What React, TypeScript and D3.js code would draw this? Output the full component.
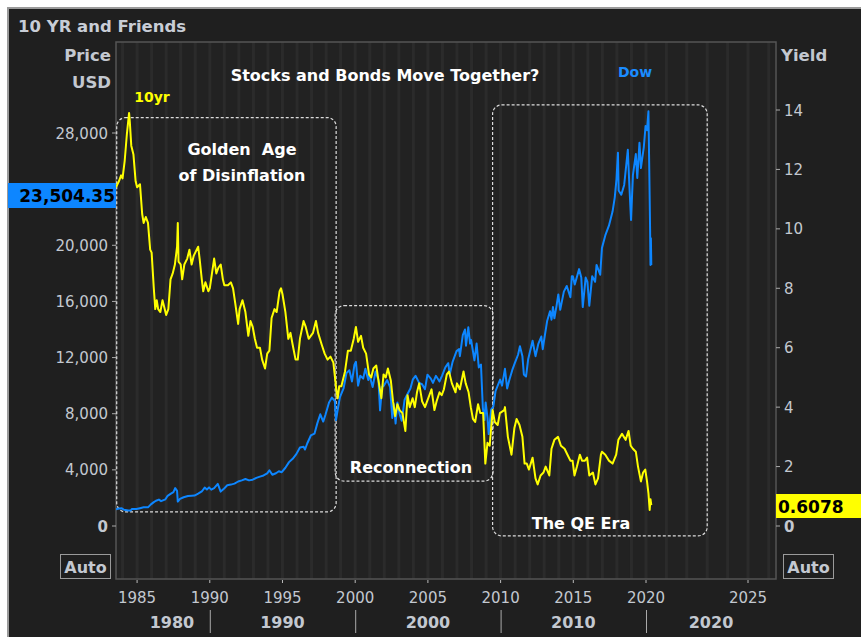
import React from "react";
import * as d3 from "d3";

// ---------- DATA ----------
const tenYrDates = [1983.55,1983.75,1983.9,1984.0,1984.15,1984.3,1984.45,1984.5,1984.6,1984.75,1984.9,1985.0,1985.2,1985.35,1985.45,1985.6,1985.75,1985.9,1986.0,1986.15,1986.25,1986.35,1986.45,1986.6,1986.75,1986.9,1987.0,1987.15,1987.3,1987.45,1987.6,1987.75,1987.8,1987.85,1988.0,1988.1,1988.25,1988.45,1988.6,1988.75,1988.9,1989.0,1989.2,1989.3,1989.45,1989.55,1989.7,1989.9,1990.0,1990.15,1990.3,1990.45,1990.6,1990.75,1990.9,1991.0,1991.25,1991.45,1991.6,1991.75,1991.95,1992.05,1992.25,1992.45,1992.65,1992.8,1992.95,1993.1,1993.25,1993.45,1993.6,1993.8,1993.95,1994.1,1994.25,1994.45,1994.6,1994.8,1994.9,1995.0,1995.2,1995.4,1995.55,1995.7,1995.9,1996.05,1996.2,1996.45,1996.6,1996.8,1996.95,1997.1,1997.3,1997.45,1997.7,1997.9,1998.1,1998.3,1998.5,1998.7,1998.8,1998.9,1999.05,1999.3,1999.5,1999.7,1999.9,2000.05,2000.2,2000.4,2000.55,2000.75,2000.95,2001.1,2001.25,2001.45,2001.6,2001.8,2001.95,2002.1,2002.25,2002.45,2002.6,2002.75,2002.9,2003.05,2003.25,2003.45,2003.6,2003.75,2003.95,2004.1,2004.25,2004.4,2004.6,2004.8,2004.95,2005.1,2005.25,2005.45,2005.6,2005.8,2005.95,2006.1,2006.3,2006.45,2006.65,2006.9,2007.0,2007.2,2007.45,2007.6,2007.8,2007.95,2008.1,2008.25,2008.45,2008.6,2008.8,2008.95,2009.1,2009.25,2009.45,2009.6,2009.8,2009.95,2010.25,2010.3,2010.5,2010.75,2010.95,2011.1,2011.3,2011.5,2011.65,2011.8,2011.95,2012.2,2012.4,2012.55,2012.75,2012.95,2013.1,2013.35,2013.5,2013.7,2013.95,2014.15,2014.4,2014.6,2014.8,2014.95,2015.08,2015.25,2015.45,2015.6,2015.8,2015.95,2016.1,2016.35,2016.52,2016.7,2016.9,2016.97,2017.2,2017.45,2017.7,2017.95,2018.1,2018.35,2018.6,2018.8,2018.95,2019.1,2019.3,2019.45,2019.65,2019.8,2019.95,2020.05,2020.12,2020.18,2020.22,2020.26];
const tenYrValues = [11.4,11.6,11.8,11.7,12.3,13.2,13.9,13.6,12.8,12.5,11.6,11.4,11.5,10.5,10.2,10.4,10.2,9.3,9.2,8.0,7.3,7.6,7.3,7.2,7.6,7.3,7.1,7.3,8.3,8.5,8.8,9.4,10.2,8.9,8.8,8.3,8.8,9.0,9.3,8.8,9.1,9.2,9.4,9.0,8.3,7.9,8.2,7.9,8.0,8.5,9.0,8.5,8.7,8.8,8.3,8.1,8.1,8.2,8.0,7.5,6.8,7.3,7.6,7.2,6.4,6.9,6.7,6.3,6.0,6.0,5.6,5.3,5.8,5.9,7.0,7.3,7.2,7.9,8.0,7.8,7.2,6.3,6.5,6.1,5.6,5.6,6.3,6.9,6.7,6.3,6.4,6.5,6.9,6.5,6.1,5.8,5.6,5.7,5.5,4.6,4.3,4.7,4.7,5.2,5.9,5.9,6.3,6.7,6.2,6.4,6.0,5.8,5.1,5.0,5.3,5.4,4.9,4.3,5.1,5.0,5.3,4.9,4.2,3.7,4.1,3.9,3.8,3.2,4.4,4.0,4.3,4.0,4.5,4.8,4.2,4.0,4.2,4.4,4.6,3.9,4.2,4.5,4.4,4.6,5.1,5.2,4.8,4.5,4.8,4.6,5.2,4.8,4.5,4.0,3.6,3.5,4.1,3.8,3.8,2.1,2.8,2.7,3.9,3.5,3.4,3.8,3.9,4.0,3.0,2.4,3.3,3.6,3.4,3.0,2.1,2.1,1.9,2.3,1.6,1.4,1.7,1.8,2.0,1.7,2.6,2.9,3.0,2.7,2.6,2.4,2.2,2.2,1.7,2.0,2.4,2.2,2.2,2.3,1.7,1.8,1.4,1.6,2.4,2.5,2.4,2.2,2.1,2.4,2.9,3.1,2.9,3.2,2.7,2.6,2.5,2.0,1.5,1.8,1.9,1.5,1.1,0.54,0.9,0.7];

const dowDates = [1983.55,1983.75,1983.95,1984.1,1984.4,1984.55,1984.65,1984.95,1985.2,1985.45,1985.75,1985.95,1986.15,1986.3,1986.5,1986.65,1986.95,1987.1,1987.3,1987.5,1987.62,1987.75,1987.8,1987.95,1988.2,1988.5,1988.75,1988.95,1989.2,1989.45,1989.65,1989.8,1989.95,1990.1,1990.3,1990.55,1990.75,1990.95,1991.2,1991.45,1991.7,1991.95,1992.2,1992.45,1992.7,1992.95,1993.2,1993.45,1993.7,1993.95,1994.1,1994.3,1994.55,1994.75,1994.95,1995.2,1995.45,1995.7,1995.95,1996.2,1996.45,1996.55,1996.7,1996.95,1997.2,1997.4,1997.6,1997.8,1997.95,1998.2,1998.4,1998.6,1998.68,1998.85,1998.95,1999.2,1999.4,1999.6,1999.78,1999.95,2000.05,2000.2,2000.35,2000.55,2000.7,2000.9,2000.97,2001.2,2001.4,2001.6,2001.71,2001.85,2001.97,2002.2,2002.4,2002.55,2002.65,2002.78,2002.9,2003.05,2003.2,2003.4,2003.6,2003.8,2003.97,2004.15,2004.4,2004.6,2004.8,2004.97,2005.2,2005.35,2005.55,2005.8,2005.97,2006.2,2006.4,2006.5,2006.7,2006.97,2007.15,2007.2,2007.4,2007.55,2007.62,2007.78,2007.9,2007.97,2008.2,2008.35,2008.5,2008.65,2008.78,2008.9,2008.97,2009.1,2009.18,2009.35,2009.5,2009.65,2009.8,2009.97,2010.1,2010.3,2010.45,2010.6,2010.8,2010.97,2011.2,2011.33,2011.5,2011.6,2011.75,2011.9,2011.97,2012.2,2012.4,2012.6,2012.8,2012.9,2012.97,2013.2,2013.4,2013.5,2013.6,2013.7,2013.85,2013.97,2014.1,2014.35,2014.55,2014.8,2014.9,2014.97,2015.1,2015.4,2015.55,2015.65,2015.85,2015.97,2016.1,2016.3,2016.5,2016.6,2016.85,2016.97,2017.2,2017.45,2017.7,2017.85,2017.97,2018.07,2018.12,2018.3,2018.5,2018.75,2018.85,2018.97,2019.1,2019.3,2019.4,2019.55,2019.65,2019.85,2019.97,2020.05,2020.12,2020.16,2020.2,2020.22,2020.24,2020.26];
const dowValues = [1200,1240,1260,1160,1110,1100,1220,1210,1270,1330,1330,1540,1700,1800,1880,1770,1900,2150,2290,2420,2700,2500,1740,1930,2050,2140,2160,2170,2300,2460,2740,2600,2750,2590,2700,3000,2450,2630,2900,2950,3020,3170,3250,3350,3250,3300,3430,3520,3600,3750,3970,3650,3760,3900,3830,4150,4550,4790,5120,5590,5650,5450,5880,6450,6580,7330,7960,7440,7910,8800,9150,8900,7540,8600,9180,9800,10900,11100,10300,11500,11700,10000,10700,10500,11200,10400,10800,9900,11000,10400,8240,9900,10000,10400,9900,7700,8700,7300,8800,8000,7500,9000,9400,9800,10450,10700,10200,10100,9750,10780,10500,10200,10700,10300,10700,11300,11600,10800,11700,12460,12600,12100,13600,14000,12850,14160,13000,13260,11800,13000,11300,11500,8400,7550,8800,7700,6550,8300,8500,9600,10000,10430,10000,11200,9800,10400,11100,11580,12200,12800,12100,10800,10650,11900,12200,13200,12100,13000,13500,12600,13100,14600,15300,14700,15600,14800,15700,16500,15400,16700,17100,16300,17800,17800,17200,18300,17700,15600,17700,17400,15700,17800,17400,18600,17900,19800,20700,21400,22400,23400,24700,26600,23900,23600,24300,26800,24400,21800,25000,26500,24800,27300,25500,27000,28500,28200,29550,25400,21200,18600,20500,18600];

const priceTicks = [0, 4000, 8000, 12000, 16000, 20000, 24000, 28000];
const hiddenPriceLabel = 24000; // covered by the last-value tag in the reference
const yieldTicks = [0, 2, 4, 6, 8, 10, 12, 14];
const yearTicks = [1985, 1990, 1995, 2000, 2005, 2010, 2015, 2020, 2025];
const decadeLabels = [1980, 1990, 2000, 2010, 2020];
const decadeSeparators = [1990, 2000, 2010, 2020];

const regimes = [
  { start: 1983.6, end: 1998.69, top: 29100, bottom: 1000 },
  { start: 1998.62, end: 2009.48, top: 15700, bottom: 3200 },
  { start: 2009.45, end: 2023.0, top: 30000, bottom: -700 },
];

export default function App() {
  const W = 861, H = 637;
  const L = 116, R = 776, T = 42, B = 579;

  const x = d3.scaleLinear().domain([1983.55, 2020, 2025, 2026.35]).range([L, 646, 748, R]);
  const yP = d3.scaleLinear().domain([0, 28000]).range([526, 133]);
  const yY = d3.scaleLinear().domain([0, 14]).range([526, 110]);

  const dowLine = d3.line<number>().x((_, i) => x(dowDates[i])).y((d) => yP(d));
  const yldLine = d3.line<number>().x((_, i) => x(tenYrDates[i])).y((d) => yY(d));

  const years = d3.range(1984, 2027);
  const font = "'DejaVu Sans', Verdana, sans-serif";
  const axisCol = "#c3c8d0";

  return (
    <div style={{ position: "absolute", left: 0, top: 0 }}>
      <svg width={W} height={H} style={{ display: "block", fontFamily: font }}>
        <rect width={W} height={H} fill="#ffffff" />
        <rect x={7} y={7} width={W - 7} height={H - 7} fill="#1f1f1f" />
        <line x1={7} y1={8} x2={W} y2={8} stroke="#9a9a9a" strokeWidth={2} />
        <line x1={8} y1={7} x2={8} y2={H} stroke="#9a9a9a" strokeWidth={2} />
        <text x={18} y={32} fill="#c8cdd6" fontSize={16.5} fontWeight="bold">10 YR and Friends</text>

        {/* plot area */}
        <clipPath id="plot"><rect x={L} y={T} width={R - L} height={B - T} /></clipPath>
        <rect x={L} y={T} width={R - L} height={B - T} fill="#222222" />
        <g clipPath="url(#plot)">
          {years.map((yr) => (
            <rect key={yr} x={x(yr) - 1.5} y={T} width={3} height={B - T} fill="#2b2b2b" />
          ))}
        </g>
        <rect x={L} y={T} width={R - L} height={B - T} fill="none" stroke="#555" strokeWidth={1.5} />

        {/* axis titles */}
        <text x={111} y={61} textAnchor="end" fill={axisCol} fontSize={16.5} fontWeight="bold">Price</text>
        <text x={111} y={88} textAnchor="end" fill={axisCol} fontSize={16.5} fontWeight="bold">USD</text>
        <text x={781} y={61} fill={axisCol} fontSize={16.5} fontWeight="bold">Yield</text>

        {/* left ticks */}
        {priceTicks.map((t) => (
          <g key={t}>
            <line x1={L - 4} x2={L} y1={yP(t)} y2={yP(t)} stroke="#aaa" />
            {t !== hiddenPriceLabel && (
              <text x={L - 8} y={yP(t) + 5.5} textAnchor="end" fill={axisCol} fontSize={15} fontWeight={t === 0 ? "bold" : "normal"}>
                {d3.format(",")(t)}
              </text>
            )}
          </g>
        ))}
        {/* right ticks */}
        {yieldTicks.map((t) => (
          <g key={t}>
            <line x1={R} x2={R + 4} y1={yY(t)} y2={yY(t)} stroke="#aaa" />
            <text x={R + 8} y={yY(t) + 5.5} fill={axisCol} fontSize={15} fontWeight={t === 0 ? "bold" : "normal"}>{t}</text>
          </g>
        ))}

        {/* x axis */}
        {yearTicks.map((t) => (
          <g key={t}>
            <line x1={x(t)} x2={x(t)} y1={B + 1} y2={B + 4} stroke="#bbb" />
            <text x={x(t)} y={603} textAnchor="middle" fill={axisCol} fontSize={15}>{t}</text>
          </g>
        ))}
        {decadeSeparators.map((t) => (
          <line key={t} x1={x(t) + 0.5} x2={x(t) + 0.5} y1={610} y2={633} stroke="#aaa" />
        ))}
        {decadeLabels.map((d) => {
          const cx = d === 1980 ? (x(1983.55) + x(1990)) / 2 + 9
            : d === 2020 ? (x(2020) + x(2025)) / 2 + 14
            : (x(d) + x(d + 10)) / 2;
          return (
            <text key={d} x={cx} y={628} textAnchor="middle" fill={axisCol} fontSize={16} fontWeight="bold">{d}</text>
          );
        })}

        {/* regime boxes */}
        {regimes.map((r, i) => (
          <rect key={i} x={x(r.start)} y={yP(r.top)} width={x(r.end) - x(r.start)} height={yP(r.bottom) - yP(r.top)}
            rx={9} fill="none" stroke="#dcdcdc" strokeWidth={1.2} strokeDasharray="3,2" />
        ))}

        {/* lines */}
        <g clipPath="url(#plot)">
          <path d={dowLine(dowValues) || ""} fill="none" stroke="#0d86ff" strokeWidth={2} strokeLinejoin="round" />
          <path d={yldLine(tenYrValues) || ""} fill="none" stroke="#ffff00" strokeWidth={2} strokeLinejoin="round" />
        </g>

        {/* annotations */}
        <text x={385} y={81} textAnchor="middle" fill="#ffffff" fontSize={16} fontWeight="bold">Stocks and Bonds Move Together?</text>
        <text x={635} y={77} textAnchor="middle" fill="#1a8cff" fontSize={14} fontWeight="bold">Dow</text>
        <text x={152} y={102} textAnchor="middle" fill="#ffff00" fontSize={14} fontWeight="bold">10yr</text>
        <text x={242} y={155} textAnchor="middle" fill="#ffffff" fontSize={16} fontWeight="bold" style={{ whiteSpace: "pre" }}>Golden  Age</text>
        <text x={242} y={181} textAnchor="middle" fill="#ffffff" fontSize={16} fontWeight="bold">of Disinflation</text>
        <text x={411} y={473} textAnchor="middle" fill="#ffffff" fontSize={16} fontWeight="bold">Reconnection</text>
        <text x={581} y={529} textAnchor="middle" fill="#ffffff" fontSize={16} fontWeight="bold">The QE Era</text>

        {/* last value boxes */}
        <rect x={8} y={183} width={L - 8} height={25} fill="#0d86ff" />
        <text x={L - 1} y={202} textAnchor="end" fill="#000" fontSize={17} fontWeight="bold">23,504.35</text>
        <rect x={R} y={494} width={W - R} height={24} fill="#ffff00" />
        <text x={R + 2} y={513} fill="#000" fontSize={17} fontWeight="bold">0.6078</text>

        {/* Auto buttons */}
        <rect x={60.5} y={554.5} width={50} height={24} fill="none" stroke="#9a9a9a" />
        <text x={85.5} y={573} textAnchor="middle" fill={axisCol} fontSize={16} fontWeight="bold">Auto</text>
        <rect x={783.5} y={554.5} width={50} height={24} fill="none" stroke="#9a9a9a" />
        <text x={808.5} y={573} textAnchor="middle" fill={axisCol} fontSize={16} fontWeight="bold">Auto</text>
      </svg>
    </div>
  );
}
